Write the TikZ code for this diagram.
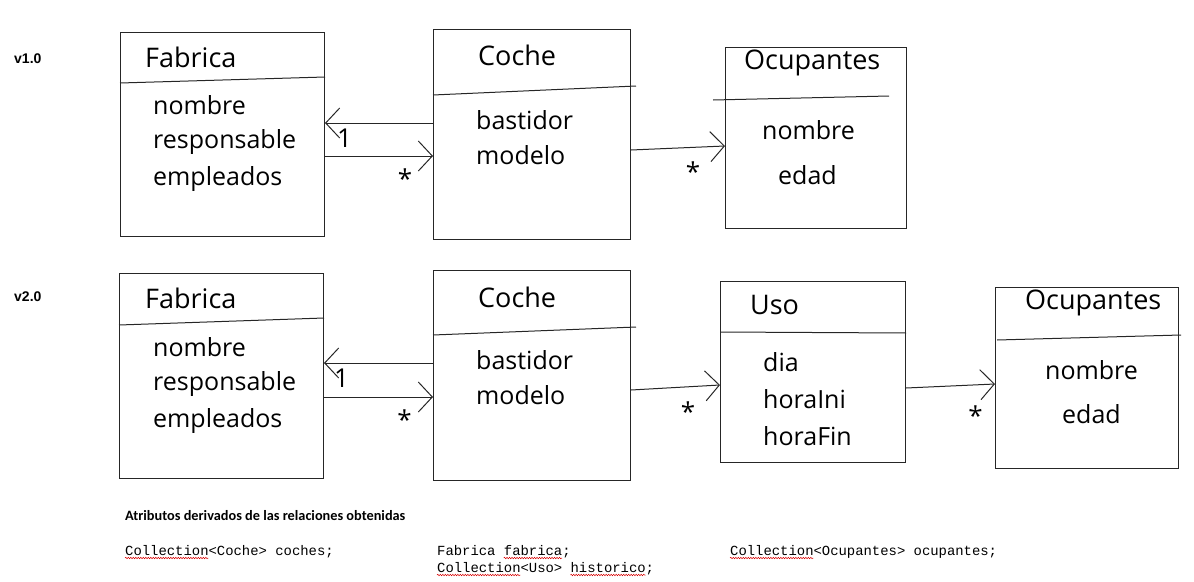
\documentclass[tikz,border=0pt]{standalone}
\usepackage{fontspec}
\setmainfont{Open Sans}
\newfontfamily\handfont{Open Sans}
\newfontfamily\codefont{Liberation Mono}
\newfontfamily\notefont{Carlito}
\newfontfamily\versionfont{Liberation Sans}
\usetikzlibrary{arrows.meta, calc, decorations.pathmorphing}
\def\cw{8.34}
\tikzset{
    umlbox/.style={draw=black!85, line width=1pt, rectangle, inner sep=0pt, anchor=north west},
    divider/.style={draw=black!85, line width=1pt},
    title/.style={font=\handfont\fontsize{27}{30}\selectfont, anchor=west, inner sep=0pt},
    attr/.style={font=\handfont\fontsize{25}{28}\selectfont, anchor=west, inner sep=0pt},
    assoc/.style={draw=black!85, line width=1pt, line join=round,
        -{Straight Barb[length=14pt,width=30pt]}},
    mult/.style={font=\handfont\fontsize{26}{28}\selectfont, inner sep=0pt},
    version/.style={font=\versionfont\bfseries\fontsize{14}{16}\selectfont, anchor=west, inner sep=0pt},
    code/.style={font=\codefont\fontsize{13.9}{17}\selectfont, anchor=base west, inner sep=0pt},
    spell/.style={draw=red!85!black, line width=0.5pt, decorate,
        decoration={snake, amplitude=0.7pt, segment length=2.5pt}},
}

\begin{document}
\begin{tikzpicture}[x=1pt, y=-1pt]
        \useasboundingbox (0,0) rectangle (1194,581);

        % v1.0
        \node[version] (v1) at (14,59) {v1.0};
        \node[umlbox, minimum width=204pt, minimum height=204pt] (fab1) at (120,32) {};
        \node[umlbox, minimum width=197pt, minimum height=210pt] (coche1) at (433,29) {};
        \node[umlbox, minimum width=181pt, minimum height=181pt] (ocup1) at (725,47) {};
        \draw[divider] ($(fab1.north west)+(0,51)$) -- ($(fab1.north east)+(0,45)$);
        \draw[divider] ($(coche1.north west)+(0,66)$) -- ($(coche1.north east)+(5,57)$);
        \draw[divider] ($(ocup1.north west)+(-12,53)$) -- ($(ocup1.north east)+(-18,49)$);

        \node[title] (fab1t) at (145,57) {Fabrica};
        \foreach \t [count=\i] in {nombre,responsable,empleados}
            \node[attr] (fab1a\i) at (153,68+37*\i) {\t};
        \node[title] (coche1t) at (478,55) {Coche};
        \foreach \t [count=\i] in {bastidor,modelo}
            \node[attr] (coche1a\i) at (476,85+35*\i) {\t};
        \node[title] (ocup1t) at (744,63) {Ocupantes};
        \node[attr] (ocup1a1) at (762,130) {nombre};
        \node[attr] (ocup1a2) at (778,175) {edad};

        \draw[assoc] ([yshift=-94pt]coche1.north west) --
            node[mult, pos=0.82, below=5pt] (m1) {1} ([yshift=-91pt]fab1.north east);
        \draw[assoc] ([yshift=-124pt]fab1.north east) --
            node[mult, pos=0.74, below=12pt] (m2) {*} ([yshift=-127pt]coche1.north west);
        \draw[assoc] ([yshift=-121pt]coche1.north east) --
            node[mult, pos=0.66, below=14pt] (m3) {*} ([yshift=-99pt]ocup1.north west);

        % v2.0
        \node[version] (v2) at (14,297) {v2.0};
        \node[umlbox, minimum width=204pt, minimum height=205pt] (fab2) at (119,273) {};
        \node[umlbox, minimum width=197pt, minimum height=210pt] (coche2) at (433,270) {};
        \node[umlbox, minimum width=185pt, minimum height=181pt] (uso) at (720,281) {};
        \node[umlbox, minimum width=183pt, minimum height=181pt] (ocup2) at (995,287) {};
        \draw[divider] ($(fab2.north west)+(0,52)$) -- ($(fab2.north east)+(0,45)$);
        \draw[divider] ($(coche2.north west)+(0,65)$) -- ($(coche2.north east)+(5,57)$);
        \draw[divider] ($(uso.north west)+(0,51)$) -- ($(uso.north east)+(0,52)$);
        \draw[divider] ($(ocup2.north west)+(2,53)$) -- ($(ocup2.north east)+(2,48)$);

        \node[title] (fab2t) at (145,298) {Fabrica};
        \foreach \t [count=\i] in {nombre,responsable,empleados}
            \node[attr] (fab2a\i) at (153,310+37*\i) {\t};
        \node[title] (coche2t) at (478,297) {Coche};
        \foreach \t [count=\i] in {bastidor,modelo}
            \node[attr] (coche2a\i) at (476,325+35*\i) {\t};
        \node[title] (usot) at (750,305) {Uso};
        \foreach \t [count=\i] in {dia,horaIni,horaFin}
            \node[attr] (usoa\i) at (763,325+37*\i) {\t};
        \node[title] (ocup2t) at (1025,303) {Ocupantes};
        \node[attr] (ocup2a1) at (1045,370) {nombre};
        \node[attr] (ocup2a2) at (1062,414) {edad};

        \draw[assoc] ([yshift=-93pt]coche2.north west) --
            node[mult, pos=0.84, below=5pt] (m4) {1} ([yshift=-90pt]fab2.north east);
        \draw[assoc] ([yshift=-124pt]fab2.north east) --
            node[mult, pos=0.74, below=12pt] (m5) {*} ([yshift=-127pt]coche2.north west);
        \draw[assoc] ([yshift=-120pt]coche2.north east) --
            node[mult, pos=0.64, below=14pt] (m6) {*} ([yshift=-104pt]uso.north west);
        \draw[assoc] ([yshift=-107pt]uso.north east) --
            node[mult, pos=0.78, below=20pt] (m7) {*} ([yshift=-97pt]ocup2.north west);

        % atributos derivados
        \node[font=\notefont\bfseries\fontsize{14.3}{17}\selectfont, anchor=base west, inner sep=0pt]
            (note) at (125,520) {Atributos derivados de las relaciones obtenidas};
        \node[code] (code1) at (125,555) {Collection<Coche> coches;};
        \node[code] (code2) at (437,555) {Fabrica fabrica;};
        \node[code] (code3) at (437,572) {Collection<Uso> historico;};
        \node[code] (code4) at (730,555) {Collection<Ocupantes> ocupantes;};
        \foreach \n/\a/\b in {code1/0/10, code2/8/15, code3/0/10, code3/16/25, code4/0/10}
            \draw[spell] ($(\n.base west)+(\a*\cw,3)$) -- ($(\n.base west)+(\b*\cw,3)$);
    \end{tikzpicture}
\end{document}
